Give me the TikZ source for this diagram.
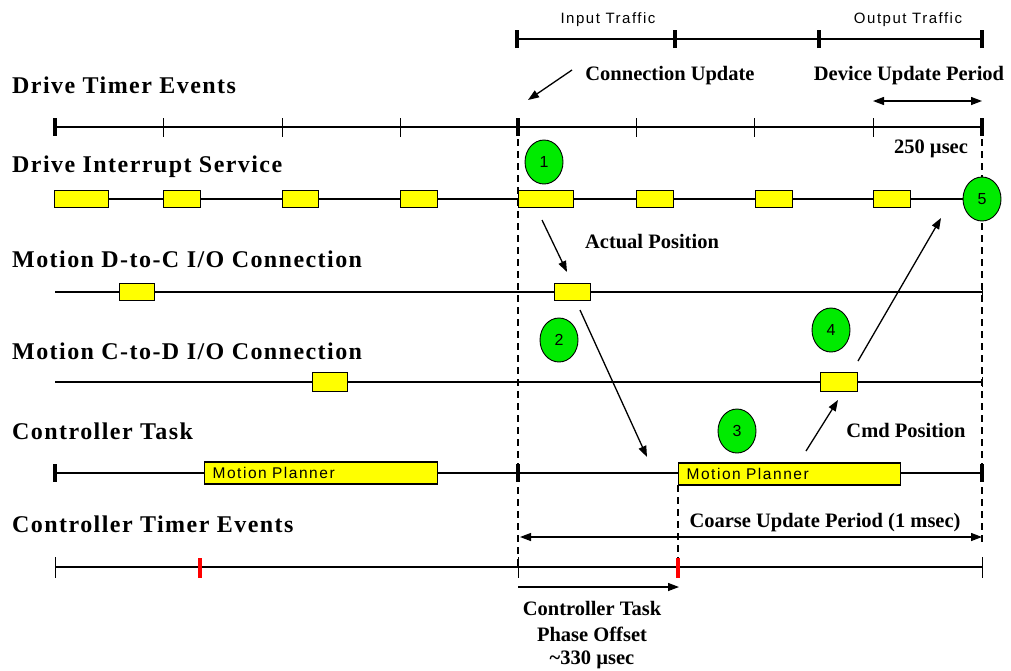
\documentclass[tikz,border=0pt]{standalone}
\usepackage{fontspec}
\setmainfont{Liberation Serif}
\newfontfamily\rowfont[LetterSpace=6]{Liberation Serif}
\newfontfamily\uifont[LetterSpace=10]{Liberation Sans}
\newfontfamily\numfont{Liberation Sans}
\usetikzlibrary{arrows.meta,shapes.geometric}
\definecolor{slotyellow}{RGB}{255,255,0}
\definecolor{stepgreen}{RGB}{0,235,0}
\definecolor{markred}{RGB}{255,0,0}
\tikzset{
  x=1pt, y=-1pt,
  rowlabel/.style={anchor=base west, inner sep=0, font=\rowfont\bfseries\fontsize{24}{26}\selectfont},
  note/.style={anchor=base, inner sep=0, font=\bfseries\fontsize{20.5}{23}\selectfont},
  uitext/.style={anchor=base, inner sep=0, font=\uifont\fontsize{15}{17}\selectfont},
  track/.style={line width=1.2pt},
  bigtick/.style={line width=3.6pt},
  smalltick/.style={line width=1pt},
  redtick/.style={line width=4.5pt, draw=markred},
  slot/.style={draw, line width=1.2pt, fill=slotyellow, anchor=west, inner sep=0, minimum height=17pt},
  planner/.style={draw, line width=1.2pt, fill=slotyellow, anchor=west, inner ysep=0, inner xsep=8pt,
    minimum height=22pt, align=left, font=\uifont\fontsize{15.5}{17}\selectfont},
  badge/.style={ellipse, draw, line width=0.9pt, fill=stepgreen, minimum width=38pt, minimum height=44pt,
    inner sep=0, font=\numfont\fontsize{16}{18}\selectfont},
  guide/.style={line width=1.3pt, dash pattern=on 7pt off 5pt},
  flow/.style={-{Triangle[length=11pt,width=8pt]}, line width=1.3pt},
  flowboth/.style={{Triangle[length=11pt,width=8pt]}-{Triangle[length=11pt,width=8pt]}, line width=1.3pt},
}
\begin{document}
\begin{tikzpicture}
\useasboundingbox (0,0) rectangle (1011,670);

% ---------- row labels ----------
\node[rowlabel] (lDTE) at (12,93) {Drive Timer Events};
\node[rowlabel] (lDIS) at (12,172) {Drive Interrupt Service};
\node[rowlabel] (lDC) at (12,267) {Motion D-to-C I/O Connection};
\node[rowlabel] (lCD) at (12,359) {Motion C-to-D I/O Connection};
\node[rowlabel] (lCT) at (12,439) {Controller Task};
\node[rowlabel] (lCTE) at (12,532) {Controller Timer Events};

% ---------- traffic bar ----------
\node[uitext] (tin) at (608,23) {Input Traffic};
\node[uitext] (tout) at (908,23) {Output Traffic};
\coordinate (tA) at (517,39);
\coordinate (tB) at (675,39);
\coordinate (tC) at (819,39);
\coordinate (tD) at (982,39);
\draw[track] (tA) -- (tD);
\foreach \p in {tA,tB,tC,tD} \draw[bigtick] ([yshift=-9pt]\p) -- ([yshift=9pt]\p);

% ---------- guide lines (dashed) ----------
\coordinate (gA1) at (518,127);
\coordinate (gA2) at (518,567);
\coordinate (gB1) at (982,127);
\coordinate (gB2) at (982,545);
\coordinate (gC1) at (678,485);
\coordinate (gC2) at (678,567);
\draw[guide] (gA1) -- (gA2);
\draw[guide] (gB1) -- (gB2);
\draw[guide] (gC1) -- (gC2);

% ---------- drive timer events ----------
\coordinate (dt0) at (55,127);
\coordinate (dtE) at (982,127);
\draw[track] (dt0) -- (dtE);
\foreach \x in {55,518,982} \draw[bigtick] (\x,118) -- (\x,136);
\foreach \x in {163,282,400,636,754,873} \draw[smalltick] (\x,118) -- (\x,137);

% ---------- drive interrupt service ----------
\coordinate (di0) at (54,199);
\coordinate (diE) at (964,199);
\draw[track] (di0) -- (diE);
\node[slot, minimum width=54pt] (s1) at (54,199) {};
\node[slot, minimum width=37pt] (s2) at (163,199) {};
\node[slot, minimum width=36pt] (s3) at (282,199) {};
\node[slot, minimum width=37pt] (s4) at (400,199) {};
\node[slot, minimum width=55pt] (s5) at (518,199) {};
\node[slot, minimum width=37pt] (s6) at (636,199) {};
\node[slot, minimum width=37pt] (s7) at (755,199) {};
\node[slot, minimum width=37pt] (s8) at (873,199) {};

% ---------- motion D-to-C ----------
\coordinate (dc0) at (55,292);
\coordinate (dcE) at (982,292);
\draw[track] (dc0) -- (dcE);
\draw[smalltick] (982,287) -- (982,297);
\node[slot, minimum width=35pt] (dc1) at (119,292) {};
\node[slot, minimum width=36pt] (dc2) at (554,292) {};

% ---------- motion C-to-D ----------
\coordinate (cd0) at (55,382);
\coordinate (cdE) at (982,382);
\draw[track] (cd0) -- (cdE);
\draw[smalltick] (982,377) -- (982,387);
\node[slot, minimum width=35pt, minimum height=19pt] (cd1) at (312,382) {};
\node[slot, minimum width=37pt, minimum height=19pt] (cd2) at (820,382) {};

% ---------- controller task ----------
\coordinate (ct0) at (55,473);
\coordinate (ctE) at (982,473);
\draw[track] (ct0) -- (ctE);
\foreach \x in {55,518,982} \draw[bigtick] (\x,464) -- (\x,482);
\node[planner, text width=217pt] (mp1) at (204,473) {Motion Planner};
\node[planner, text width=206pt] (mp2) at (678,474) {Motion Planner};

% ---------- controller timer events ----------
\coordinate (te0) at (55,567);
\coordinate (teE) at (982,567);
\draw[track] (te0) -- (teE);
\foreach \x in {55,518,982} \draw[smalltick] (\x,557) -- (\x,578);
\foreach \x in {200,678} \draw[redtick] (\x,558) -- (\x,578);

% ---------- step badges ----------
\node[badge] (b1) at (544,162) {1};
\node[badge] (b2) at (559,340) {2};
\node[badge] (b3) at (737,431) {3};
\node[badge] (b4) at (831,330) {4};
\node[badge] (b5) at (982,199) {5};

% ---------- annotations ----------
\node[note] (nCU) at (670,80) {Connection Update};
\node[note] (nDU) at (909,80) {Device Update Period};
\node[note] (n250) at (931,153) {250 µsec};
\node[note] (nAP) at (652,248) {Actual Position};
\node[note] (nCP) at (906,437) {Cmd Position};
\node[note] (nCO) at (825,527) {Coarse Update Period (1 msec)};
\node[note] (nPO1) at (592,615) {Controller Task};
\node[note] (nPO2) at (592,641) {Phase Offset};
\node[note] (nPO3) at (592,664) {\textasciitilde330 µsec};

% ---------- arrows ----------
\coordinate (aCU1) at (572,70);
\coordinate (aCU2) at (528,100);
\draw[flow] (aCU1) -- (aCU2);
\coordinate (aDU1) at (873,101);
\coordinate (aDU2) at (982,101);
\draw[flowboth] (aDU1) -- (aDU2);
\coordinate (aAP1) at (542,220);
\coordinate (aAP2) at (567,272);
\draw[flow] (aAP1) -- (aAP2);
\coordinate (a21) at (580,310);
\coordinate (a22) at (647,457);
\draw[flow] (a21) -- (a22);
\coordinate (aCP1) at (806,451);
\coordinate (aCP2) at (838,400);
\draw[flow] (aCP1) -- (aCP2);
\coordinate (a451) at (858,361);
\coordinate (a452) at (941,218);
\draw[flow] (a451) -- (a452);
\coordinate (aCO1) at (520,537);
\coordinate (aCO2) at (982,537);
\draw[flowboth] (aCO1) -- (aCO2);
\coordinate (aPO1) at (518,587);
\coordinate (aPO2) at (679,587);
\draw[flow] (aPO1) -- (aPO2);
\end{tikzpicture}
\end{document}
